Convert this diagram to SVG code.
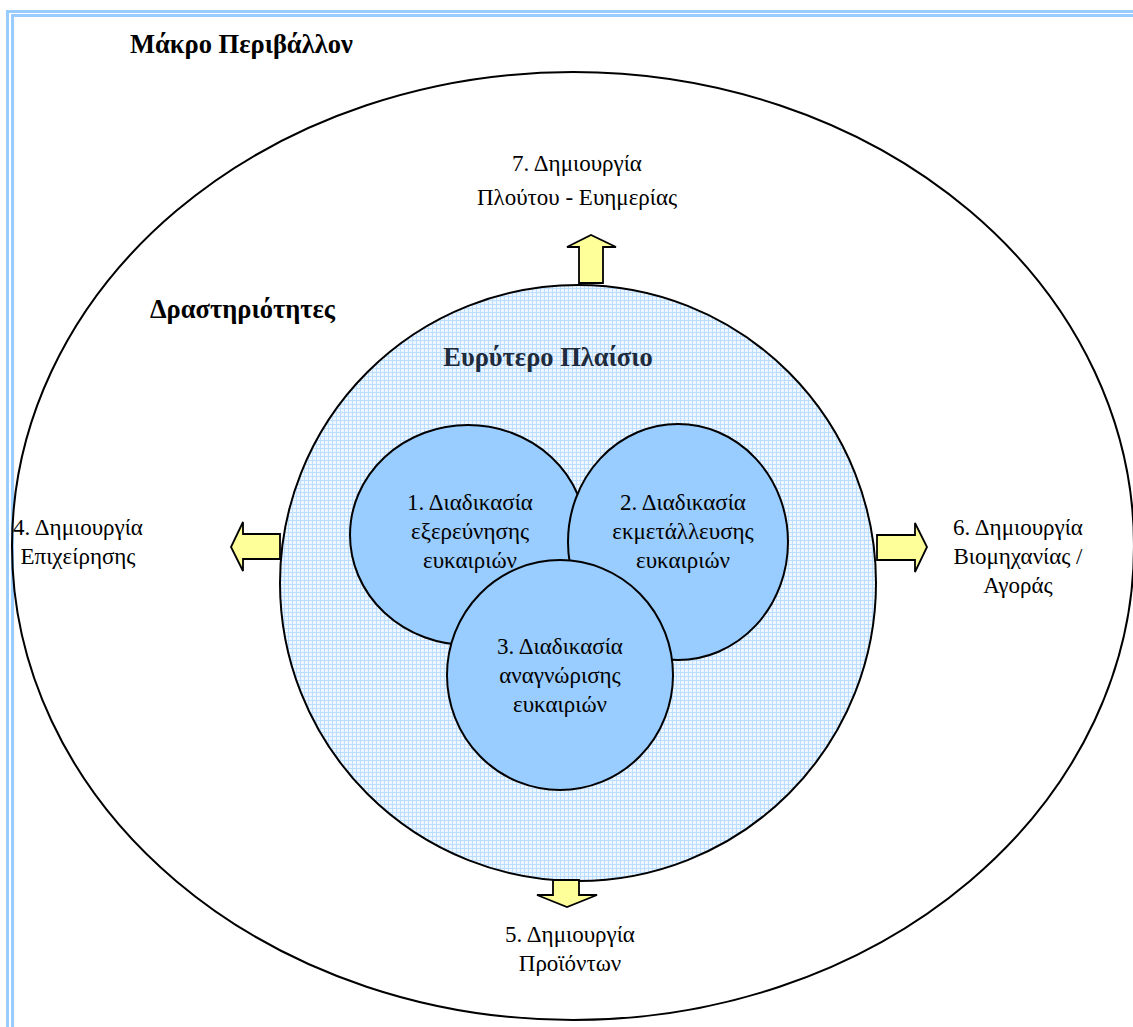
<svg xmlns="http://www.w3.org/2000/svg" width="1133" height="1027" viewBox="0 0 1133 1027">
<defs>
<pattern id="grid" width="4" height="4" patternUnits="userSpaceOnUse">
<rect width="4" height="4" fill="#EEF6FF"/>
<path d="M0 0.5H4M0.5 0V4" stroke="#BBDDFF" stroke-width="1"/>
</pattern>
</defs>
<style>
.t{font-family:"Liberation Serif","Times New Roman",serif;font-size:23px;fill:#000;text-anchor:middle}
.b{font-family:"Liberation Serif","Times New Roman",serif;font-size:26.5px;font-weight:bold;fill:#000}
.arr{fill:#FFFF99;stroke:#000;stroke-width:1.8;stroke-linejoin:miter}
.sm{fill:#99CCFF;stroke:#000;stroke-width:2}
.frame{fill:none;stroke:#99CCFF;stroke-width:3}
</style>
<rect width="1133" height="1027" fill="#fff"/>
<g id="frame">
<path class="frame" d="M7.5 1027V11.5H1133"/>
<path class="frame" d="M12.5 1027V15.5H1133"/>
</g>
<g id="macro">
<ellipse cx="573" cy="546" rx="561" ry="474" fill="none" stroke="#000" stroke-width="2"/>
<text class="b" x="130" y="53">Μάκρο Περιβάλλον</text>
</g>
<g id="activities">
<text class="b" x="150" y="318">Δραστηριότητες</text>
</g>
<g id="context">
<circle cx="578" cy="583" r="298" fill="url(#grid)" stroke="#000" stroke-width="2"/>
<text class="b" x="548" y="366" text-anchor="middle" style="fill:#1E2B3C">Ευρύτερο Πλαίσιο</text>
</g>
<g id="p1">
<ellipse class="sm" cx="468" cy="535" rx="118" ry="110"/>
</g>
<g id="p2">
<ellipse class="sm" cx="678" cy="542" rx="110" ry="118"/>
</g>
<g id="p3">
<ellipse class="sm" cx="560" cy="675" rx="113" ry="115"/>
</g>
<g id="labels-p">
<text class="t" x="470" y="510">1. Διαδικασία</text>
<text class="t" x="470" y="539">εξερεύνησης</text>
<text class="t" x="470" y="568">ευκαιριών</text>
<text class="t" x="683" y="510">2. Διαδικασία</text>
<text class="t" x="683" y="539">εκμετάλλευσης</text>
<text class="t" x="683" y="568">ευκαιριών</text>
<text class="t" x="560" y="654">3. Διαδικασία</text>
<text class="t" x="560" y="683">αναγνώρισης</text>
<text class="t" x="560" y="712">ευκαιριών</text>
</g>
<g id="connectors">
<path class="arr" d="M579 283V247H567L591 235L616 247H603V283Z"/>
<path class="arr" d="M553 880V895H537L567 907L597 895H579V880Z"/>
<path class="arr" d="M280 534H243V522L231 547L243 571V559H280Z"/>
<path class="arr" d="M877 535H915V523L927 547L915 572V560H877Z"/>
</g>
<g id="o4">
<text class="t" x="78" y="535">4. Δημιουργία</text>
<text class="t" x="78" y="564">Επιχείρησης</text>
</g>
<g id="o5">
<text class="t" x="570" y="942">5. Δημιουργία</text>
<text class="t" x="570" y="971">Προϊόντων</text>
</g>
<g id="o6">
<text class="t" x="1018" y="535">6. Δημιουργία</text>
<text class="t" x="1018" y="564">Βιομηχανίας /</text>
<text class="t" x="1018" y="593">Αγοράς</text>
</g>
<g id="o7">
<text class="t" x="577" y="171">7. Δημιουργία</text>
<text class="t" x="577" y="205">Πλούτου - Ευημερίας</text>
</g>
</svg>
